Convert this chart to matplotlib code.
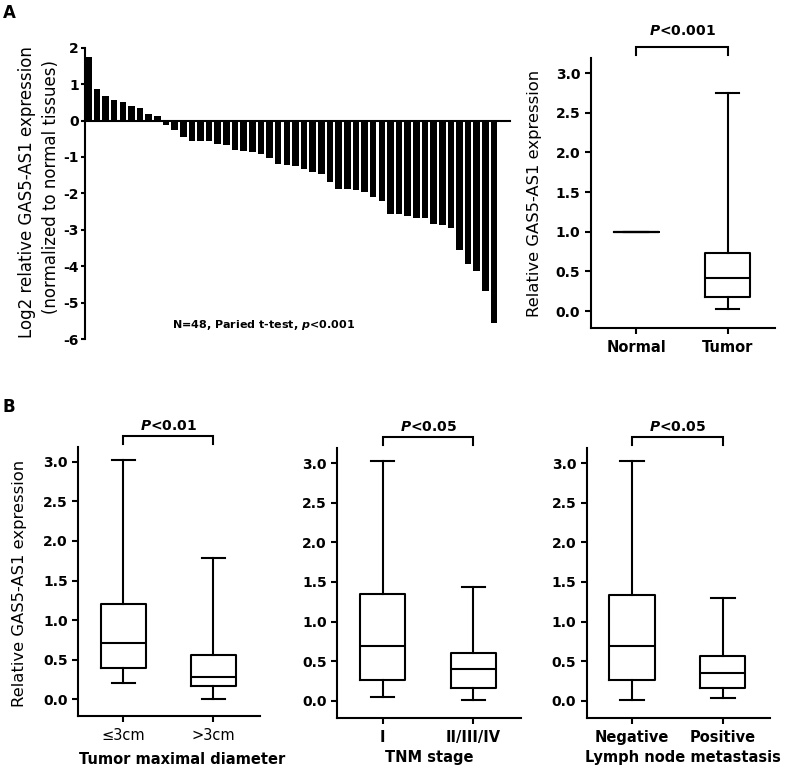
import matplotlib
matplotlib.use("Agg")
import matplotlib.pyplot as plt
import numpy as np

plt.rcParams['font.family'] = ['DejaVu Sans']

# ---------------- data ----------------
log2_fc = [1.75, 0.86, 0.68, 0.56, 0.52, 0.40, 0.34, 0.19, 0.13,
           -0.11, -0.25, -0.45, -0.55, -0.56, -0.56, -0.64, -0.66, -0.81, -0.85,
           -0.86, -0.93, -1.04, -1.20, -1.21, -1.25, -1.32, -1.41, -1.48, -1.68,
           -1.87, -1.87, -1.90, -1.97, -2.10, -2.20, -2.56, -2.58, -2.61, -2.68,
           -2.68, -2.85, -2.87, -2.95, -3.56, -3.93, -4.14, -4.67, -5.55]
bar_yticks = [2, 1, 0, -1, -2, -3, -4, -5, -6]

box_yticks = [0.0, 0.5, 1.0, 1.5, 2.0, 2.5, 3.0]

# Panel A right: Normal vs Tumor  (whislo, q1, med, q3, whishi)
a_labels = ["Normal", "Tumor"]
a_normal = [1.0, 1.0, 1.0, 1.0, 1.0]
a_tumor = [0.03, 0.18, 0.42, 0.73, 2.75]
a_p = "<0.001"

# Panel B
b1_labels = ["\u22643cm", ">3cm"]
b1_small = [0.21, 0.39, 0.71, 1.21, 3.02]
b1_large = [0.01, 0.17, 0.28, 0.56, 1.78]
b1_title = "Tumor maximal diameter"
b1_p = "<0.01"

b2_labels = ["I", "II/III/IV"]
b2_early = [0.05, 0.26, 0.69, 1.35, 3.02]
b2_late = [0.01, 0.16, 0.40, 0.60, 1.44]
b2_title = "TNM stage"
b2_p = "<0.05"

b3_labels = ["Negative", "Positive"]
b3_neg = [0.01, 0.26, 0.69, 1.33, 3.02]
b3_pos = [0.03, 0.16, 0.35, 0.57, 1.30]
b3_title = "Lymph node metastasis"
b3_p = "<0.05"

# ---------------- figure ----------------
W, H = 787, 770
fig = plt.figure(figsize=(W / 100, H / 100), dpi=100)


def fx(px):
    return px / W


def fy(py):
    return 1 - py / H


LW = 1.5

# ---- Panel A bar chart ----
axb = fig.add_axes([fx(85), fy(339), fx(510) - fx(85), fy(47.7) - fy(339)])
x = np.arange(len(log2_fc))
axb.bar(x, log2_fc, width=0.76, color='black', linewidth=0)
axb.set_xlim(-0.38, 48.85)
axb.set_ylim(-6, 2)
axb.set_yticks(bar_yticks)
axb.set_yticklabels([str(v) for v in bar_yticks])
for s in ['top', 'right']:
    axb.spines[s].set_visible(False)
axb.spines['bottom'].set_position(('data', 0))
axb.spines['bottom'].set_linewidth(LW)
axb.spines['left'].set_linewidth(LW)
axb.set_xticks([])
axb.tick_params(axis='y', direction='out', length=3, width=LW, pad=1.5,
                labelsize=10)
for lab in axb.get_yticklabels():
    lab.set_fontweight('bold')
fig.text(fx(264), fy(325), r"N=48, Paried t-test, $\boldsymbol{p}$<0.001",
         ha='center', va='center', fontsize=8, fontweight='bold')

fig.text(fx(27.5), fy(191.7), "Log2 relative GAS5-AS1 expression",
         rotation=90, ha='center', va='center', fontsize=12)
fig.text(fx(50.8), fy(186.7), "(normalized to normal tissues)",
         rotation=90, ha='center', va='center', fontsize=12)


def box_axes(rect, stats_a, stats_b, labels, p, bracket_y, text_y):
    ax = fig.add_axes(rect)
    stats = []
    for st in (stats_a, stats_b):
        stats.append(dict(whislo=st[0], q1=st[1], med=st[2], q3=st[3],
                          whishi=st[4], fliers=[]))
    lp = dict(color='black', linewidth=LW)
    ax.bxp(stats, positions=[1, 2], widths=0.5, capwidths=0.26,
           showfliers=False, boxprops=lp, medianprops=lp, whiskerprops=lp,
           capprops=lp)
    ax.set_xlim(0.5, 2.52)
    ax.set_ylim(-0.21, 3.19)
    ax.set_yticks(box_yticks)
    ax.set_yticklabels(["%.1f" % v for v in box_yticks])
    ax.set_xticks([1, 2])
    ax.set_xticklabels(labels)
    for s in ['top', 'right']:
        ax.spines[s].set_visible(False)
    for s in ['left', 'bottom']:
        ax.spines[s].set_linewidth(LW)
    ax.tick_params(axis='y', direction='out', length=4.5, width=LW, pad=3,
                   labelsize=10)
    ax.tick_params(axis='x', direction='out', length=4, width=LW, pad=5,
                   labelsize=10.5)
    for lab in ax.get_yticklabels() + ax.get_xticklabels():
        lab.set_fontweight('bold')
    # significance bracket
    ax.plot([1, 1, 2, 2], [bracket_y - 0.1, bracket_y, bracket_y, bracket_y - 0.1],
            color='black', linewidth=LW, clip_on=False, solid_joinstyle='miter')
    ax.text(1.5, text_y, r"$\boldsymbol{P}$" + p, ha='center', va='center',
            fontsize=10, fontweight='bold', clip_on=False)
    return ax


axA = box_axes([fx(590.7), fy(327.7), fx(775) - fx(590.7), fy(58) - fy(327.7)],
               a_normal, a_tumor, a_labels, a_p, 3.325, 3.53)
fig.text(fx(534), fy(193.3), "Relative GAS5-AS1 expression", rotation=90,
         ha='center', va='center', fontsize=11.8)

ax1 = box_axes([fx(78.3), fy(716), fx(260) - fx(78.3), fy(446.7) - fy(716)],
               b1_small, b1_large, b1_labels, b1_p, 3.33, 3.45)
for lab in ax1.get_xticklabels():
    lab.set_fontweight('normal')
fig.text(fx(19.2), fy(583.3), "Relative GAS5-AS1 expression", rotation=90,
         ha='center', va='center', fontsize=11.8)
fig.text(fx(182), fy(759), b1_title, ha='center', va='center', fontsize=10.5,
         fontweight='bold')

ax2 = box_axes([fx(337.3), fy(717.5), fx(520.7) - fx(337.3), fy(448) - fy(717.5)],
               b2_early, b2_late, b2_labels, b2_p, 3.33, 3.45)
fig.text(fx(429.7), fy(757.7), b2_title, ha='center', va='center', fontsize=10.5,
         fontweight='bold')

ax3 = box_axes([fx(586.7), fy(717.5), fx(770) - fx(586.7), fy(448) - fy(717.5)],
               b3_neg, b3_pos, b3_labels, b3_p, 3.33, 3.45)
fig.text(fx(682.5), fy(757.7), b3_title, ha='center', va='center', fontsize=10.5,
         fontweight='bold')

fig.text(fx(3), fy(12.5), "A", ha='left', va='center', fontsize=12,
         fontweight='bold')
fig.text(fx(3), fy(406.7), "B", ha='left', va='center', fontsize=12,
         fontweight='bold')

fig.savefig("out.png", dpi=100)
